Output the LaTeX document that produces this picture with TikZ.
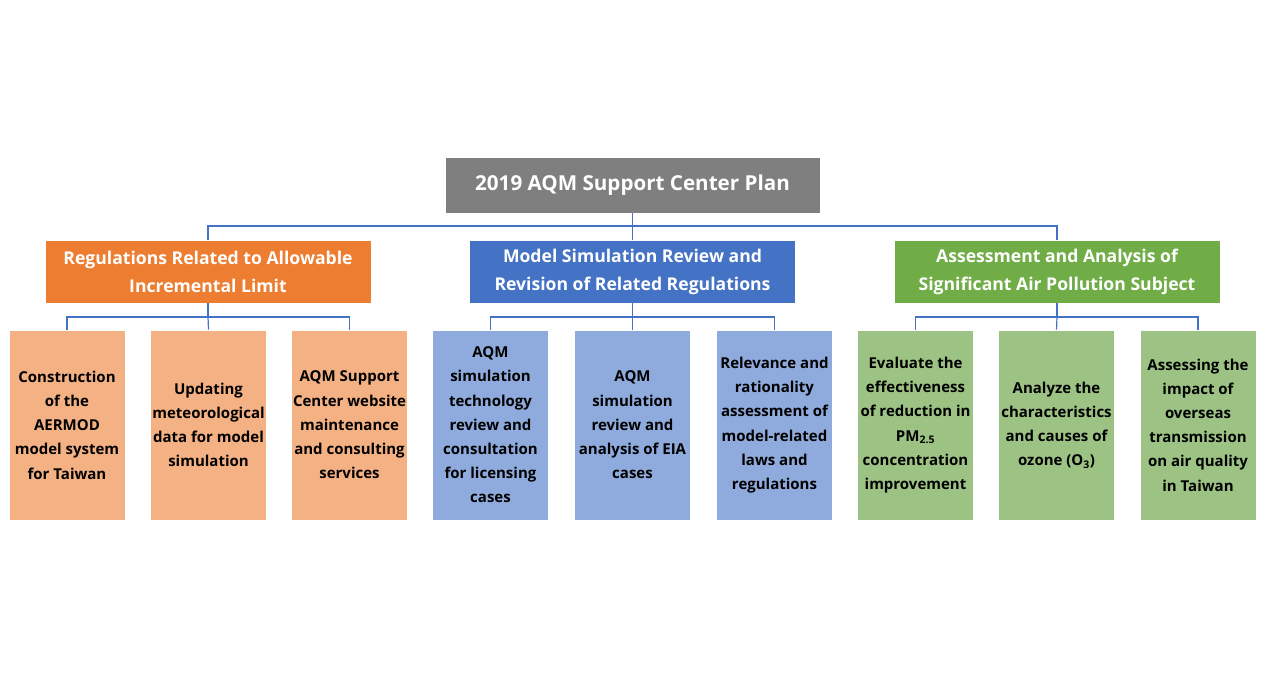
\documentclass[tikz,border=0pt]{standalone}
\usepackage{fontspec}
\setmainfont{Open Sans}
\definecolor{topgray}{HTML}{7F7F7F}
\definecolor{orgA}{HTML}{ED7D31}
\definecolor{bluA}{HTML}{4472C4}
\definecolor{grnA}{HTML}{70AD47}
\definecolor{orgB}{HTML}{F4B183}
\definecolor{bluB}{HTML}{8FAADC}
\definecolor{grnB}{HTML}{9DC384}
\definecolor{conncol}{HTML}{4472C4}
\begin{document}
\begin{tikzpicture}[x=1pt,y=-1pt,
  topbox/.style={draw=white, line width=0.8pt, fill=topgray, text=white, minimum width=375pt, minimum height=56pt, inner sep=0pt, font=\fontsize{20.6}{24}\selectfont\bfseries},
  headbox/.style={draw=white, line width=0.8pt, text=white, minimum width=326pt, minimum height=63pt, inner sep=0pt, align=center, font=\fontsize{17.6}{28}\selectfont\bfseries},
  leafbox/.style={draw=white, line width=0.8pt, text=black, minimum width=116pt, minimum height=190pt, inner sep=0pt, align=center, font=\fontsize{15}{24.2}\selectfont\bfseries},
  conn/.style={draw=conncol, line width=1.2pt}]
\useasboundingbox (0,0) rectangle (1268,678);

\node[topbox] (top) at (632.5,185) {2019 AQM Support Center Plan};

\node[headbox, fill=orgA] (o) at (208,271.5) {Regulations Related to Allowable\\Incremental Limit};
\node[headbox, fill=bluA] (b) at (632.5,271.5) {Model Simulation Review and\\Revision of Related Regulations};
\node[headbox, fill=grnA] (g) at (1057,271.5) {Assessment and Analysis of\\Significant Air Pollution Subject};

\node[leafbox, fill=orgB] (o1) at (67,425) {Construction\\of the\\AERMOD\\model system\\for Taiwan};
\node[leafbox, fill=orgB] (o2) at (208.5,425) {Updating\\meteorological\\data for model\\simulation};
\node[leafbox, fill=orgB] (o3) at (349.5,425) {AQM Support\\Center website\\maintenance\\and consulting\\services};

\node[leafbox, fill=bluB] (b1) at (490.5,425) {AQM\\simulation\\technology\\review and\\consultation\\for licensing\\cases};
\node[leafbox, fill=bluB] (b2) at (632.5,425) {AQM\\simulation\\review and\\analysis of EIA\\cases};
\node[leafbox, fill=bluB] (b3) at (774.5,425) {Relevance and\\rationality\\assessment of\\model-related\\laws and\\regulations};

\node[leafbox, fill=grnB] (g1) at (915.5,425) {Evaluate the\\effectiveness\\of reduction in\\PM\textsubscript{2.5}\\concentration\\improvement};
\node[leafbox, fill=grnB] (g2) at (1056.5,425) {Analyze the\\characteristics\\and causes of\\ozone (O\textsubscript{3})};
\node[leafbox, fill=grnB] (g3) at (1198,425) {Assessing the\\impact of\\overseas\\transmission\\on air quality\\in Taiwan};

\coordinate (jt) at (632.5,226);
\draw[conn] (top.south) -- (jt) -| (o.north);
\draw[conn] (jt) -| (g.north);
\draw[conn] (jt) -- (b.north);

\coordinate (jo) at (208,317);
\draw[conn] (o.south) -- (jo) -| (o1.north);
\draw[conn] (jo) -| (o3.north);
\draw[conn] (jo) -- (o2.north);

\coordinate (jb) at (632.5,317);
\draw[conn] (b.south) -- (jb) -| (b1.north);
\draw[conn] (jb) -| (b3.north);
\draw[conn] (jb) -- (b2.north);

\coordinate (jg) at (1057,317);
\draw[conn] (g.south) -- (jg) -| (g1.north);
\draw[conn] (jg) -| (g3.north);
\draw[conn] (jg) -- (g2.north);
\end{tikzpicture}
\end{document}
